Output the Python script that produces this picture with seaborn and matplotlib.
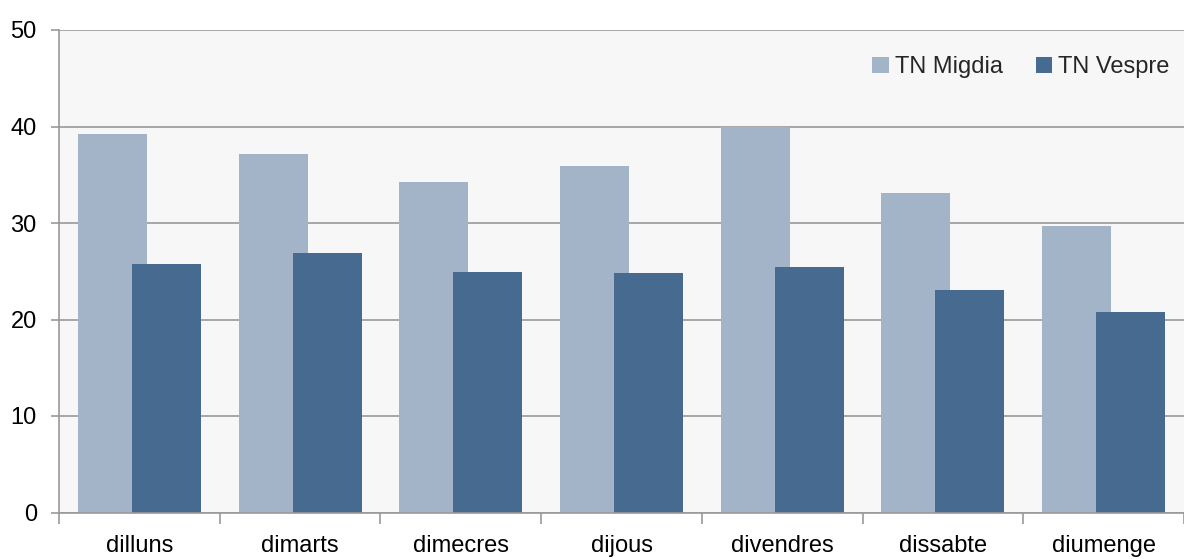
import matplotlib
matplotlib.use("Agg")
import matplotlib.pyplot as plt
import seaborn as sns
import pandas as pd
import numpy as np
from matplotlib.ticker import MultipleLocator, FixedLocator

days = ["dilluns", "dimarts", "dimecres", "dijous", "divendres", "dissabte", "diumenge"]
series = ["TN Migdia", "TN Vespre"]
migdia = [39.2, 37.1, 34.2, 35.9, 40.0, 33.1, 29.7]
vespre = [25.8, 26.9, 24.9, 24.8, 25.4, 23.1, 20.8]
colors = ["#A3B4C9", "#476A91"]

df = pd.DataFrame({
    "dia": days * 2,
    "serie": [series[0]] * len(days) + [series[1]] * len(days),
    "valor": migdia + vespre,
})

sns.set_theme(style="white")
plt.rcParams["font.family"] = ["Liberation Sans", "DejaVu Sans"]

fig = plt.figure(figsize=(11.84, 5.59), dpi=100)
ax = fig.add_axes([59 / 1184, 46.5 / 559, 1 - 59 / 1184, 482.5 / 559])
ax.set_facecolor("#F7F7F7")

sns.barplot(data=df, x="dia", y="valor", hue="serie", order=days,
            hue_order=series, palette=colors, width=0.86, saturation=1,
            linewidth=0, ax=ax, zorder=3)

# overlapping bars: pull each pair toward the category centre
bar_w = 0.43
offset = 0.168
n = len(days)
for k, patch in enumerate(ax.patches[: 2 * n]):
    s = k // n
    i = k % n
    centre = i + (-offset if s == 0 else offset)
    patch.set_width(bar_w)
    patch.set_x(centre - bar_w / 2)

ax.set_xlim(-0.5, n - 0.5)
ax.set_ylim(0, 50)
ax.yaxis.set_major_locator(MultipleLocator(10))
ax.grid(axis="y", color="#999999", linewidth=1.2, zorder=1)
ax.grid(axis="x", visible=False)
ax.set_axisbelow(True)

for side in ["top", "right"]:
    ax.spines[side].set_visible(False)
for side in ["left", "bottom"]:
    ax.spines[side].set_color("#999999")
    ax.spines[side].set_linewidth(1.2)
    ax.spines[side].set_zorder(4)

ax.set_xlabel("")
ax.set_ylabel("")
ax.xaxis.set_minor_locator(FixedLocator(np.arange(-0.5, n, 1.0)))
ax.tick_params(axis="x", which="major", length=0, pad=16, labelsize=17, labelcolor="black")
ax.tick_params(axis="x", which="minor", length=8, width=1.2, color="#999999", direction="out", bottom=True)
ax.tick_params(axis="y", which="major", length=6, width=1.2, color="#999999", direction="out",
               left=True, pad=10, labelsize=17, labelcolor="black")

leg = ax.legend(loc="upper right", bbox_to_anchor=(1.006, 0.99), ncol=2, frameon=False,
                fontsize=17, handlelength=0.7, handleheight=0.7, handletextpad=0.25,
                columnspacing=1.4)

fig.savefig("out.png", dpi=100, facecolor="white")
